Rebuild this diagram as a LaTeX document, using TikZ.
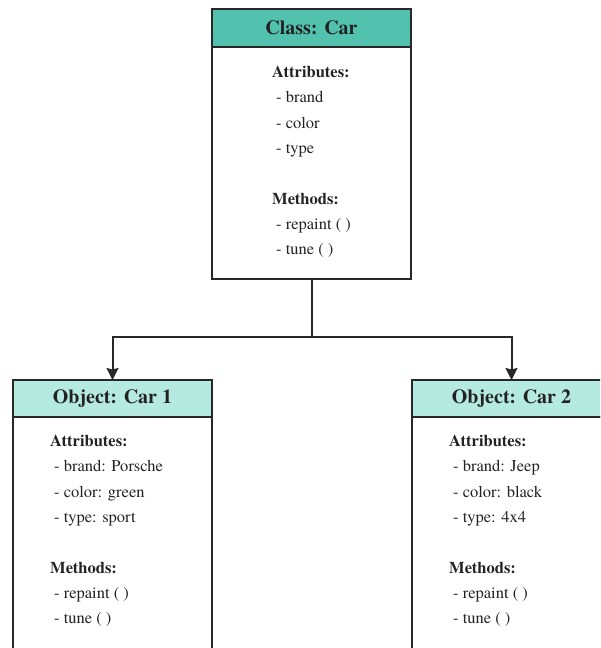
\documentclass[tikz,border=0pt]{standalone}
\usepackage{fontspec}
\setmainfont{TeX Gyre Termes}
\usetikzlibrary{arrows.meta,positioning,calc}
\definecolor{classhd}{RGB}{82,194,174}
\definecolor{objhd}{RGB}{180,234,224}
\definecolor{edge}{RGB}{40,40,40}
\definecolor{ink}{RGB}{34,34,34}
\newcommand{\mitem}[1]{\hspace*{4pt}- #1}
\tikzset{
  hdr/.style={draw=edge,line width=2pt,minimum width=199pt,minimum height=37pt,
              inner sep=0,outer sep=0,text=ink,font=\fontsize{20}{24}\selectfont\bfseries},
  classhdr/.style={hdr,fill=classhd},
  objhdr/.style={hdr,fill=objhd},
  bodybox/.style={draw=edge,line width=2pt,fill=white,minimum width=199pt,
                  inner sep=0,outer sep=0},
  memb/.style={anchor=north west,align=left,inner sep=0,text=ink,
               font=\fontsize{16.5}{25.3}\selectfont},
  link/.style={line width=2pt,draw=edge},
  flow/.style={link,-{Stealth[length=12pt,width=12pt,inset=1.5pt]}},
}

\begin{document}
\begin{tikzpicture}[x=1pt,y=1pt]
  \useasboundingbox (0,0) rectangle (600,-648);
  \clip (0,0) rectangle (600,-648);

  % ---------------- the class ----------------
  \node[classhdr,minimum height=38pt] (classhead) at (311.5,-28) {Class: Car};
  \node[bodybox,minimum height=232pt,below=0pt of classhead] (classbody) {};
  \node[memb] (classmemb) at ([xshift=60,yshift=-19]classbody.north west)
    {\textbf{Attributes:}\\ \mitem{brand}\\ \mitem{color}\\ \mitem{type}\\[25.3pt]
     \textbf{Methods:}\\ \mitem{repaint ( )}\\ \mitem{tune ( )}};

  % ---------------- the two objects ----------------
  \node[objhdr] (car1head) at (112.5,-398.5) {Object: Car 1};
  \node[bodybox,minimum height=260pt,below=0pt of car1head] (car1body) {};
  \node[memb] (car1memb) at ([xshift=37,yshift=-18]car1body.north west)
    {\textbf{Attributes:}\\ \mitem{brand: Porsche}\\ \mitem{color: green}\\ \mitem{type: sport}\\[25.3pt]
     \textbf{Methods:}\\ \mitem{repaint ( )}\\ \mitem{tune ( )}};

  \node[objhdr] (car2head) at (511.5,-398.5) {Object: Car 2};
  \node[bodybox,minimum height=260pt,below=0pt of car2head] (car2body) {};
  \node[memb] (car2memb) at ([xshift=37,yshift=-18]car2body.north west)
    {\textbf{Attributes:}\\ \mitem{brand: Jeep}\\ \mitem{color: black}\\ \mitem{type: 4x4}\\[25.3pt]
     \textbf{Methods:}\\ \mitem{repaint ( )}\\ \mitem{tune ( )}};

  % instantiation: one trunk from the class, split to both objects
  \coordinate (fork) at ($(classbody.south)+(0,-58)$);
  \draw[link] (classbody.south) -- (fork);
  \draw[flow] (fork) -| (car1head.north);
  \draw[flow] (fork) -| (car2head.north);
\end{tikzpicture}
\end{document}
